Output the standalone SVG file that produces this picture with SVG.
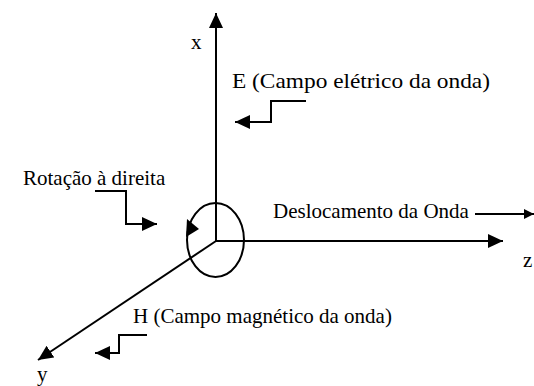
<svg xmlns="http://www.w3.org/2000/svg" width="534" height="386" viewBox="0 0 534 386">
  <style>
    .ln { fill: none; stroke: #000; stroke-width: 2; }
  </style>
  <defs>
    <marker id="ah" markerUnits="userSpaceOnUse" markerWidth="16" markerHeight="15" refX="15" refY="7" orient="auto">
      <path d="M0,0 L15,7 L0,14 z" fill="#000"/>
    </marker>
    <marker id="ahs" markerUnits="userSpaceOnUse" markerWidth="11" markerHeight="11" refX="10" refY="5" orient="auto">
      <path d="M0,0 L10,5 L0,10 z" fill="#000"/>
    </marker>
  </defs>
  <rect width="534" height="386" fill="#fff"/>

  <g id="connectors">
    <line class="ln" x1="216" y1="241" x2="216" y2="13" marker-end="url(#ah)"/>
    <line class="ln" x1="216" y1="241" x2="503" y2="241" marker-end="url(#ah)"/>
    <line class="ln" x1="216" y1="241" x2="38" y2="360" marker-end="url(#ah)"/>
    <polyline class="ln" points="306,101 271,101 271,122 235,122" marker-end="url(#ah)"/>
    <polyline class="ln" points="95,191 126,191 126,224 157,224" marker-end="url(#ah)"/>
    <polyline class="ln" points="147,335 119,335 119,353 95,353" marker-end="url(#ah)"/>
    <line class="ln" x1="475" y1="214" x2="534" y2="214" marker-end="url(#ahs)"/>
  </g>

  <g id="rotation">
    <ellipse class="ln" cx="215.5" cy="240" rx="28.5" ry="37"/>
    <polygon points="186,237 187,219 199,229" fill="#000"/>
  </g>

  <g id="label-x"><text x="191" y="49" font-family="Liberation Serif" font-size="21">x</text></g>
  <g id="label-y"><text x="37" y="381" font-family="Liberation Serif" font-size="21">y</text></g>
  <g id="label-z"><text x="523" y="267" font-family="Liberation Serif" font-size="21">z</text></g>
  <g id="label-E"><text x="232" y="88" font-family="Liberation Serif" font-size="21" textLength="258" lengthAdjust="spacingAndGlyphs">E (Campo elétrico da onda)</text></g>
  <g id="label-rot"><text x="23" y="185" font-family="Liberation Serif" font-size="21">Rotação à direita</text></g>
  <g id="label-desl"><text x="273" y="218" font-family="Liberation Serif" font-size="21">Deslocamento da Onda</text></g>
  <g id="label-H"><text x="133" y="323" font-family="Liberation Serif" font-size="21">H (Campo magnético da onda)</text></g>
</svg>
